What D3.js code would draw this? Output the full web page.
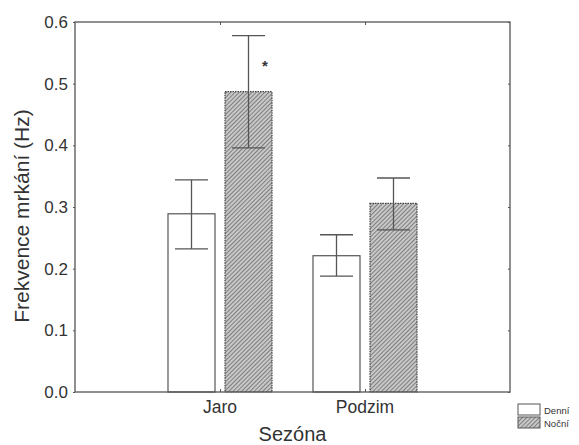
<!DOCTYPE html>
<html>
<head>
<meta charset="utf-8">
<script src="https://cdn.jsdelivr.net/npm/d3@7"></script>
<style>
  body { margin: 0; background: #fff; }
  text { font-family: "Liberation Sans", Arial, sans-serif; fill: #333; }
</style>
</head>
<body>
<svg id="chart" width="579" height="445"></svg>
<script>
var seasons = ["Jaro", "Podzim"];
var groups = ["Denní", "Noční"];
var means = [[0.289, 0.487], [0.221, 0.306]];
var upper = [[0.344, 0.578], [0.255, 0.347]];
var lower = [[0.232, 0.396], [0.188, 0.263]];
var yTicks = [0.0, 0.1, 0.2, 0.3, 0.4, 0.5, 0.6];

var svg = d3.select("#chart"),
    plotL = 75, plotR = 510, plotT = 22, plotB = 392;

var defs = svg.append("defs");
var pat = defs.append("pattern")
    .attr("id", "hatch")
    .attr("patternUnits", "userSpaceOnUse")
    .attr("width", 3).attr("height", 3)
    .attr("patternTransform", "rotate(45)");
pat.append("rect").attr("width", 3).attr("height", 3).attr("fill", "#c8c8c8");
pat.append("line").attr("x1", 0).attr("y1", 0).attr("x2", 0).attr("y2", 3)
    .attr("stroke", "#555").attr("stroke-width", 1.3);

var x = d3.scalePoint().domain(seasons).range([plotL, plotR]).padding(1);
var sub = d3.scaleOrdinal().domain(groups).range([-52, 5]);
var barW = 47;
var y = d3.scaleLinear().domain([0, 0.6]).range([plotB, plotT]);

var data = [];
seasons.forEach(function(s, i) {
  groups.forEach(function(g, j) {
    data.push({season: s, group: g, mean: means[i][j], hi: upper[i][j], lo: lower[i][j]});
  });
});

// bars
svg.selectAll(".bar").data(data).enter().append("rect")
    .attr("class", "bar")
    .attr("x", function(d) { return x(d.season) + sub(d.group); })
    .attr("y", function(d) { return y(d.mean); })
    .attr("width", barW)
    .attr("height", function(d) { return y(0) - y(d.mean); })
    .attr("fill", function(d) { return d.group === "Noční" ? "url(#hatch)" : "#fff"; })
    .attr("stroke", function(d) { return d.group === "Noční" ? "#444" : "#555"; })
    .attr("stroke-dasharray", function(d) { return d.group === "Noční" ? "1.5,1" : null; })
    .attr("stroke-width", 1.2);

// error bars
var eb = svg.selectAll(".err").data(data).enter().append("g").attr("class", "err")
    .attr("stroke", "#555").attr("stroke-width", 1.3);
function cx(d) { return x(d.season) + sub(d.group) + barW / 2; }
eb.append("line")
    .attr("x1", cx).attr("x2", cx)
    .attr("y1", function(d) { return y(d.lo); })
    .attr("y2", function(d) { return y(d.hi); });
eb.append("line")
    .attr("x1", function(d) { return cx(d) - 16.5; }).attr("x2", function(d) { return cx(d) + 16.5; })
    .attr("y1", function(d) { return y(d.hi); }).attr("y2", function(d) { return y(d.hi); });
eb.append("line")
    .attr("x1", function(d) { return cx(d) - 16.5; }).attr("x2", function(d) { return cx(d) + 16.5; })
    .attr("y1", function(d) { return y(d.lo); }).attr("y2", function(d) { return y(d.lo); });

// significance mark
svg.append("text")
    .attr("x", x("Jaro") + 45).attr("y", y(0.5) - 13)
    .attr("text-anchor", "middle")
    .style("font-size", "15px").style("font-weight", "bold")
    .text("*");

// axes
var axColor = "#555";
var yAx = svg.append("g").attr("transform", "translate(" + plotL + ",0)")
    .call(d3.axisLeft(y).tickValues(yTicks).tickFormat(d3.format(".1f")).tickSize(2).tickPadding(5));
yAx.selectAll("text").style("font-size", "17px");
svg.append("g").attr("transform", "translate(" + plotR + ",0)")
    .call(d3.axisLeft(y).tickValues(yTicks).tickSize(2).tickFormat(""));
svg.append("g").attr("transform", "translate(0," + plotB + ")")
    .call(d3.axisTop(x).tickSize(3).tickFormat(""));
svg.append("g").attr("transform", "translate(0," + plotT + ")")
    .call(d3.axisBottom(x).tickSize(3).tickFormat(""));
svg.selectAll(".domain").remove();
svg.selectAll(".tick line").attr("stroke", axColor);

svg.append("rect")
    .attr("x", plotL).attr("y", plotT)
    .attr("width", plotR - plotL).attr("height", plotB - plotT)
    .attr("fill", "none").attr("stroke", axColor).attr("stroke-width", 1.3);

// category labels
svg.selectAll(".cat").data(seasons).enter().append("text")
    .attr("class", "cat")
    .attr("x", function(d) { return x(d); })
    .attr("y", 413)
    .attr("text-anchor", "middle")
    .style("font-size", "17.5px")
    .text(function(d) { return d; });

svg.append("text")
    .attr("x", (plotL + plotR) / 2).attr("y", 441)
    .attr("text-anchor", "middle")
    .style("font-size", "20px")
    .text("Sezóna");

svg.append("text")
    .attr("transform", "translate(29,216) rotate(-90)")
    .attr("text-anchor", "middle")
    .style("font-size", "21px")
    .text("Frekvence mrkání (Hz)");

// legend
var leg = svg.selectAll(".leg").data(groups).enter().append("g")
    .attr("class", "leg")
    .attr("transform", function(d, i) { return "translate(518," + (404 + i * 13) + ")"; });
leg.append("rect")
    .attr("width", 22).attr("height", 11)
    .attr("fill", function(d) { return d === "Noční" ? "url(#hatch)" : "#fff"; })
    .attr("stroke", "#555");
leg.append("text")
    .attr("x", 26).attr("y", 9.5)
    .style("font-size", "9.5px")
    .text(function(d) { return d; });
</script>
</body>
</html>
